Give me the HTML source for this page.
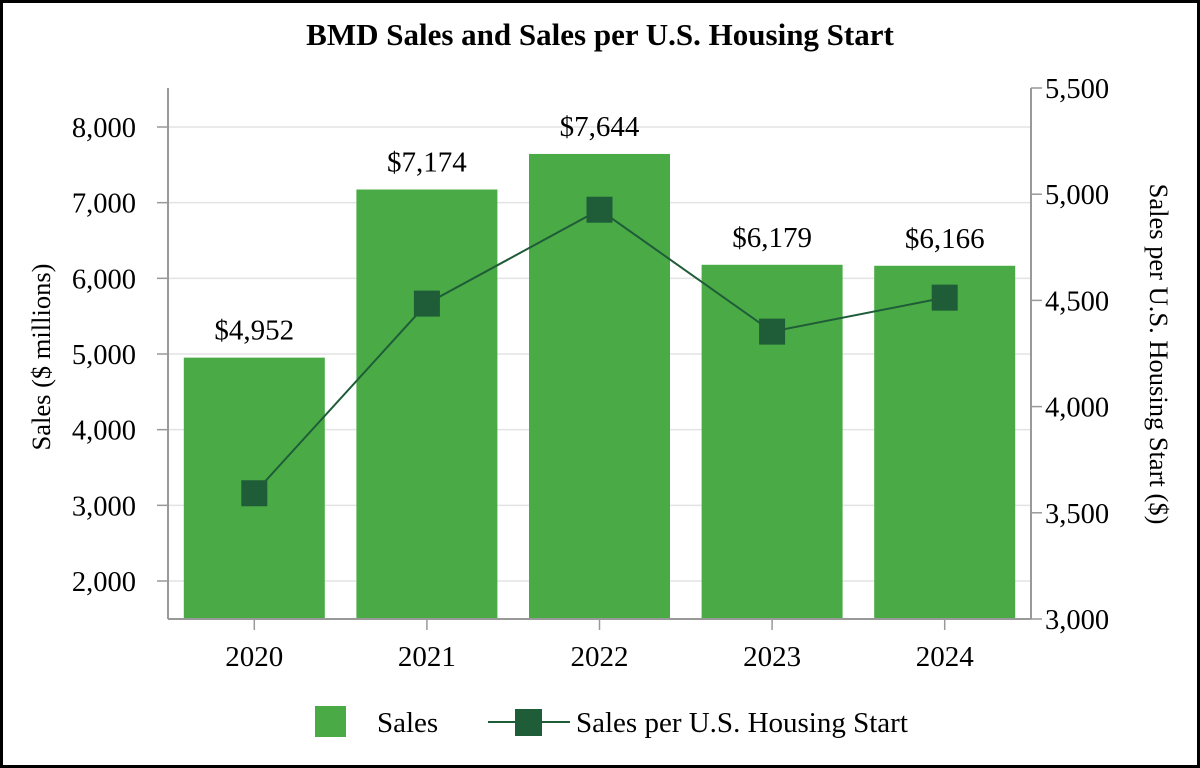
<!DOCTYPE html>
<html><head><meta charset="utf-8"><style>
body{margin:0;background:#fff}
svg{display:block;font-family:"Liberation Serif",serif}
</style></head><body>
<svg id="chart" width="1200" height="768" viewBox="0 0 1200 768">
<rect x="1.5" y="1.5" width="1197" height="765" fill="#fff" stroke="#000" stroke-width="3"/>
<text x="600" y="45" text-anchor="middle" font-size="31" font-weight="bold">BMD Sales and Sales per U.S. Housing Start</text>
<g id="grid"></g><g id="bars"></g><g id="axes"></g><g id="line"></g>
<text transform="translate(50,357) rotate(-90)" text-anchor="middle" font-size="26.5">Sales ($ millions)</text>
<text transform="translate(1150,354) rotate(90)" text-anchor="middle" font-size="26.5">Sales per U.S. Housing Start ($)</text>
<g>
<rect x="315" y="706" width="31" height="31" fill="#4aab46"/>
<text x="377" y="732" font-size="29">Sales</text>
<line x1="488" y1="722" x2="570" y2="722" stroke="#1f5c38" stroke-width="2"/>
<rect x="515" y="709" width="27" height="27" fill="#1f5c38"/>
<text x="576" y="732" font-size="29">Sales per U.S. Housing Start</text>
</g>
</svg>
<script>
const categories=["2020","2021","2022","2023","2024"];
const sales=[4952,7174,7644,6179,6166];
const salesLabels=["$4,952","$7,174","$7,644","$6,179","$6,166"];
const perStart=[3592,4485,4927,4353,4513];
const leftTicks=[2000,3000,4000,5000,6000,7000,8000];
const rightTicks=[3000,3500,4000,4500,5000,5500];
const NS="http://www.w3.org/2000/svg";
const X0=168,X1=1031,YB=619,YT=88;
const yL=v=>581-(v-2000)*(454/6000);
const yR=v=>YB-(v-3000)*((YB-YT)/2500);
const step=(X1-X0)/categories.length;
const xC=i=>X0+step*(i+0.5);
function mk(t,a,p){const e=document.createElementNS(NS,t);for(const k in a)e.setAttribute(k,a[k]);p.appendChild(e);return e;}
const grid=document.getElementById('grid'),axes=document.getElementById('axes'),bars=document.getElementById('bars'),line=document.getElementById('line');
leftTicks.forEach(v=>{
 const g=mk('line',{x1:X0,x2:X1,y1:yL(v),y2:yL(v),stroke:'#e3e3e3','stroke-width':1.5},grid);
 
 
 const tk=mk('line',{x1:X0-11,x2:X0,y1:yL(v),y2:yL(v),stroke:'#999','stroke-width':1.5},axes);
 
 
 const t=mk('text',{x:X0-32,y:yL(v)+10,'text-anchor':'end','font-size':28.5},axes);
 t.textContent=v.toLocaleString('en-US');
 
 
});
rightTicks.forEach(v=>{
 const tk=mk('line',{x1:X1,x2:X1+11,y1:yR(v),y2:yR(v),stroke:'#999','stroke-width':1.5},axes);
 
 
 const t=mk('text',{x:X1+14,y:yR(v)+10,'font-size':28.5},axes);
 t.textContent=v.toLocaleString('en-US');
 
 
});
const la=mk('line',{x1:X0,x2:X0,y1:YT,y2:YB,stroke:'#999','stroke-width':2},axes);


const ra=mk('line',{x1:X1,x2:X1,y1:YT,y2:YB,stroke:'#999','stroke-width':2},axes);


const xa=mk('line',{x1:X0,x2:X1,y1:YB,y2:YB,stroke:'#999','stroke-width':2},axes);


const bw=141;
categories.forEach((c,i)=>{
 const b=mk('rect',{x:xC(i)-bw/2,y:yL(sales[i]),width:bw,height:YB-1-yL(sales[i]),fill:'#4aab46'},bars);
 
 
 const l=mk('text',{x:xC(i),y:yL(sales[i])-18,'text-anchor':'middle','font-size':29},bars);
 l.textContent=salesLabels[i];
 
 
 const tk=mk('line',{x1:xC(i),x2:xC(i),y1:YB,y2:YB+11,stroke:'#999','stroke-width':1.5},axes);
 
 
 const t=mk('text',{x:xC(i),y:YB+47,'text-anchor':'middle','font-size':29},axes);
 t.textContent=c;
 
 
});
const pl=mk('polyline',{points:perStart.map((v,i)=>xC(i)+','+yR(v)).join(' '),fill:'none',stroke:'#1f5c38','stroke-width':2},line);


perStart.forEach((v,i)=>{
 const m=mk('rect',{x:xC(i)-13,y:yR(v)-13,width:26,height:26,fill:'#1f5c38'},line);
 
 
});
</script>
</body></html>
